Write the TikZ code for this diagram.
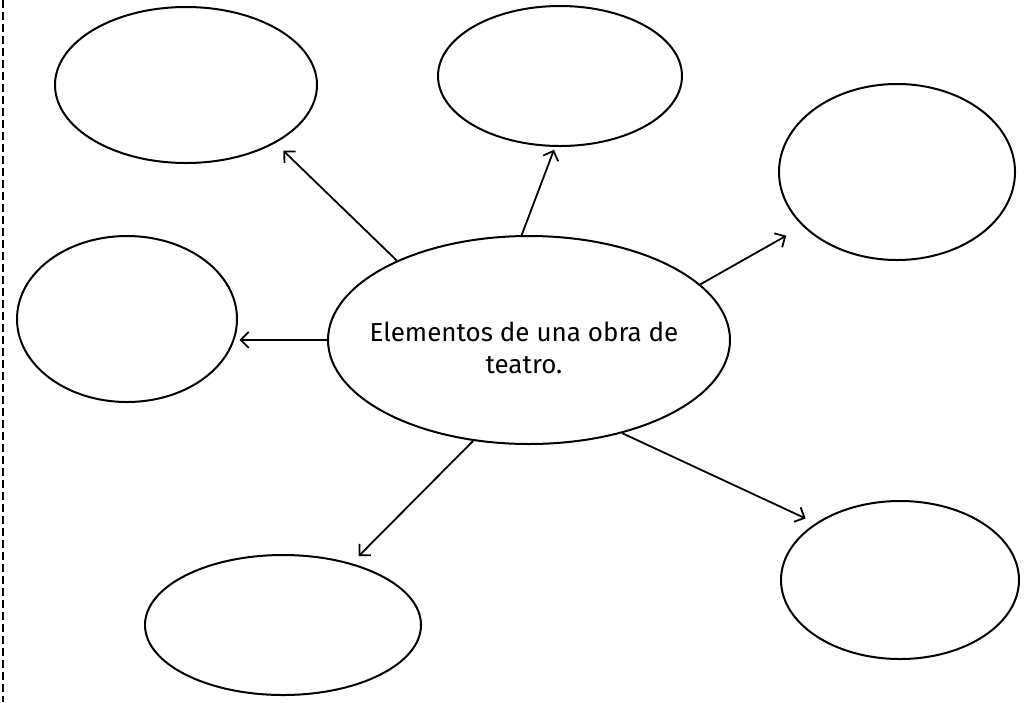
\documentclass[tikz,border=0pt]{standalone}
\usepackage{fontspec}
\setmainfont{Fira Sans}
\usetikzlibrary{shapes.geometric,arrows.meta}

\begin{document}
\begin{tikzpicture}[x=1pt,y=-1pt]
        \tikzstyle{every node}+=[inner sep=0pt]
        \tikzstyle{bubble}=[draw=black,ellipse,line width=2pt]
        \tikzstyle{link}=[black,line width=1.8pt,-{Straight Barb[length=8pt,width=16pt]}]
        \useasboundingbox (0,0) rectangle (1024,702);
        \draw [black,line width=2.6pt,dash pattern=on 8pt off 4pt] (3,0) -- (3,702);
        \node [bubble,minimum width=402pt,minimum height=208pt] (tema) at (529,340) {};
        \node [align=center,font=\fontsize{26}{32}\selectfont] (titulo) at (524,348) {Elementos de una obra de\\teatro.};
        \node [bubble,minimum width=262pt,minimum height=156pt] (tl) at (186,85) {};
        \node [bubble,minimum width=244pt,minimum height=140pt] (tm) at (560,76) {};
        \node [bubble,minimum width=236pt,minimum height=176pt] (rt) at (897,172) {};
        \node [bubble,minimum width=220pt,minimum height=166pt] (lf) at (127,319) {};
        \node [bubble,minimum width=276pt,minimum height=140pt] (bl) at (283,625) {};
        \node [bubble,minimum width=238pt,minimum height=158pt] (br) at (900,580) {};
        \draw [link,shorten >=11pt] (tema.149.5) -- (tl.-33.4);
        \draw [link,shorten >=3pt] (tema.94) -- (tm.-94);
        \draw [link,shorten >=19pt] (tema.18.5) -- (rt.210);
        \draw [link,shorten >=5pt] (tema.180) -- (lf.-11);
        \draw [link,shorten >=10pt] (tema.241) -- (bl.42);
        \draw [link,shorten >=11pt] (tema.-45.6) -- (br.146);
\end{tikzpicture}
\end{document}
